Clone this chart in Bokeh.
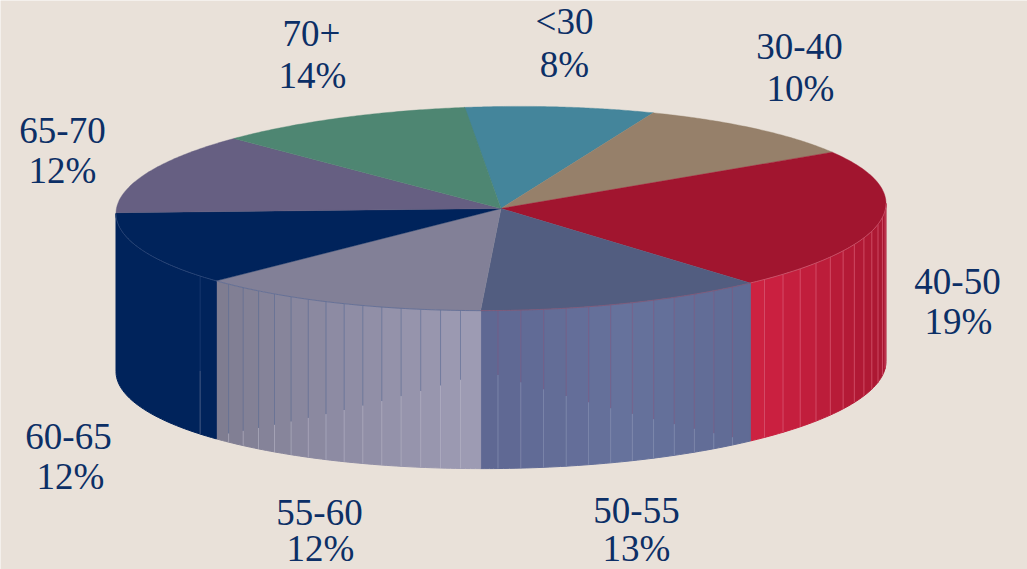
import numpy as np
from bokeh.plotting import figure
from bokeh.models import Range1d
from bokeh.core.properties import value
from bokeh.embed import file_html
from bokeh.resources import INLINE

# Age bands and their share of the total, clockwise from the top of the disc
groups = ["<30", "30-40", "40-50", "50-55", "55-60", "60-65", "65-70", "70+"]
shares = [8, 10, 19, 13, 12, 12, 12, 14]

top_colors = ["#44859b", "#96806a", "#a1152f", "#525d80", "#828097", "#00235b", "#665f82", "#4e8672"]

# Colour stops across each visible side wall, from its right end to its left end
side_stops = {
    "40-50": ["#a5162f", "#b31a36", "#cf2242"],
    "50-55": ["#5f6a94", "#66729c", "#5f6792"],
    "55-60": ["#9e9cb4", "#8d8ba3", "#7e7c90"],
    "60-65": ["#00235b", "#00235b", "#00235b"],
}
# Seam styling per wall: upper colour, lower colour, split height at each end, rim colour, alpha
seam_styles = {
    "40-50": ("#d95f78", "#d95f78", 0.0, 0.0, "#d8697f", 0.7),
    "50-55": ("#83587f", "#929ab9", 1.0, 0.37, "#8f5a78", 0.55),
    "55-60": ("#5a6a95", "#b8b6c6", 0.40, 0.98, "#5a6a95", 0.6),
    "60-65": ("#1f3e74", "#5f7193", 0.6, 0.6, "#3a5585", 0.7),
}
seam_step = {"40-50": 3.9, "50-55": 3.4, "55-60": 3.0, "60-65": 3.7}

BG = "#e9e1d9"
INK = "#0c2f66"
CX, CY, RX, RY, DEPTH, TILT = 500.5, 208.0, 385.0, 102.0, 158.0, -0.013
START = -5.5
FONT = value("Liberation Serif")

# Label centres: group name row and percentage row
name_x = [564, 799, 957, 636, 319, 68, 62, 311]
name_y = [21, 46, 281, 510, 512, 436, 130, 33]
pct_x = [564, 800, 958, 636, 320, 70, 62, 312]
pct_y = [64, 88, 321, 548, 548, 476, 170, 75]


def view_angle(t):
    """Foreshortening of the disc: true sweep angle to on-screen ellipse angle."""
    t = np.asarray(t, dtype=float)
    return t + np.interp(t, [-6, 59, 127, 175, 217, 260, 304, 355], [0, 0, 12, 8.5, 10, 9.5, 12, 0])


def rim(t):
    r = np.radians(t)
    x = CX + RX * np.sin(r)
    y = CY - RY * np.cos(r) + TILT * (x - CX)
    return x, y


def mix(stops, f):
    c = np.array([[int(s[i:i + 2], 16) for i in (1, 3, 5)] for s in stops], dtype=float)
    pos = np.linspace(0, 1, len(stops))
    rgb = [np.interp(f, pos, c[:, k]) for k in range(3)]
    return "#%02x%02x%02x" % tuple(int(round(v)) for v in rgb)


p = figure(width=1027, height=569, output_backend="svg", toolbar_location=None,
           x_range=Range1d(0, 1027), y_range=Range1d(569, 0), min_border=0,
           background_fill_color=BG, border_fill_color=BG, outline_line_color=None)
p.axis.visible = False
p.grid.visible = False

edges = np.cumsum([0] + [s * 3.6 for s in shares]) + START
lo_all, hi_all = view_angle(edges[:-1]), view_angle(edges[1:])

# Side wall: narrow vertical strips shaded from one end to the other
for g, lo, hi in zip(groups, lo_all, hi_all):
    if g not in side_stops:
        continue
    a, b = max(lo, 90.0), min(hi, 270.0)
    solid = g == "60-65"
    cuts = np.array([a, b]) if solid else np.append(np.arange(a, b, seam_step[g]), b)
    xs, ys, cols = [], [], []
    for u, v in zip(cuts[:-1], cuts[1:]):
        arc = np.linspace(u, v, 40 if solid else 5)
        x, y = rim(arc)
        xs.append(np.r_[x, x[::-1]])
        ys.append(np.r_[y, y[::-1] + DEPTH])
        cols.append(mix(side_stops[g], ((u + v) / 2 - a) / (b - a)))
    p.patches(xs, ys, fill_color=cols, line_color=cols, line_width=1.0)

    up, low, s0, s1, rim_col, alpha = seam_styles[g]
    inner = [a + seam_step[g]] if solid else cuts[1:-1]
    for t in inner:
        x, y = rim(t)
        split = s0 + (s1 - s0) * (t - a) / (b - a)
        split_y = y + split * DEPTH
        p.segment(x, y, x, split_y, line_color=up, line_width=1, line_alpha=alpha)
        p.segment(x, split_y, x, y + DEPTH, line_color=low, line_width=1, line_alpha=alpha)

# Top face
for g, lo, hi, col in zip(groups, lo_all, hi_all, top_colors):
    x, y = rim(np.linspace(lo, hi, 80))
    p.patch(np.r_[CX, x], np.r_[CY, y], fill_color=col, line_color=col, line_width=0.4)

# Hairline where the top face meets the side wall
for g, lo, hi in zip(groups, lo_all, hi_all):
    if g in seam_styles:
        x, y = rim(np.linspace(max(lo, 90.0), min(hi, 270.0), 80))
        p.line(x, y, line_color=seam_styles[g][4], line_width=1, line_alpha=0.7)

# Two-row labels
p.text(name_x, name_y, text=groups, text_font=FONT, text_font_size="37px", text_color=INK,
       text_align="center", text_baseline="middle")
p.text(pct_x, pct_y, text=[f"{s}%" for s in shares], text_font=FONT, text_font_size="37px",
       text_color=INK, text_align="center", text_baseline="middle")

open("out.html", "w").write(file_html(p, INLINE))
